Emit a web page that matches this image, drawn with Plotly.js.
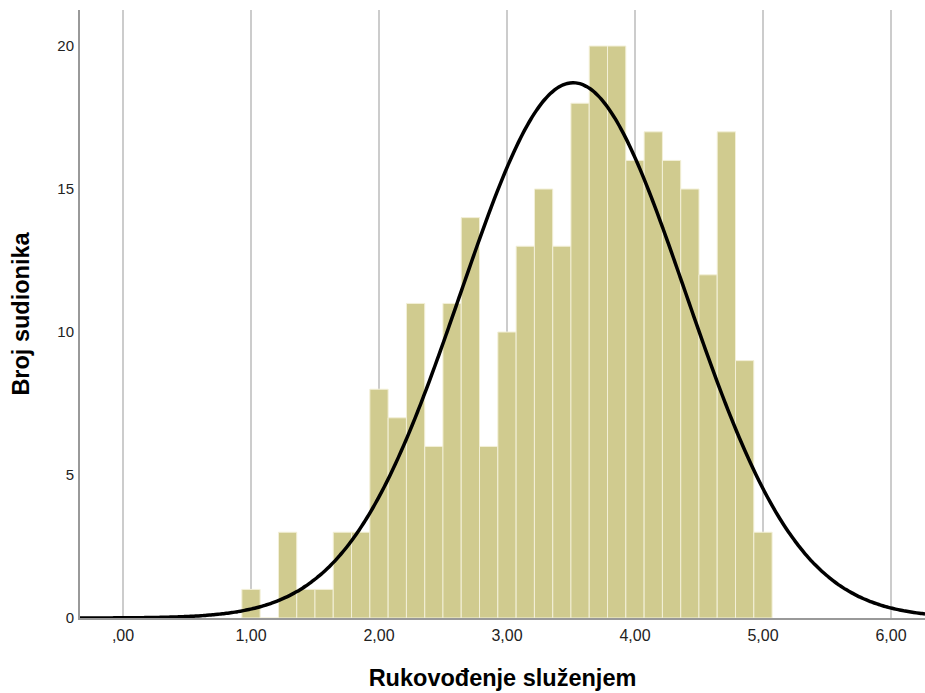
<!DOCTYPE html>
<html>
<head>
<meta charset="utf-8">
<script src="https://cdn.plot.ly/plotly-3.0.1.min.js"></script>
<style>html,body{margin:0;padding:0;background:#fff;}#chart{width:925px;height:693px;}</style>
</head>
<body>
<div id="chart"></div>
<script>
// Bin centres (1.00 to 5.00 in steps of 1/7)
const binCenters = [1.000, 1.143, 1.286, 1.429, 1.571, 1.714, 1.857, 2.000, 2.143, 2.286,
                    2.429, 2.571, 2.714, 2.857, 3.000, 3.143, 3.286, 3.429, 3.571, 3.714,
                    3.857, 4.000, 4.143, 4.286, 4.429, 4.571, 4.714, 4.857, 5.000];
const counts = [1, 0, 3, 1, 1, 3, 3, 8, 7, 11,
                6, 11, 14, 6, 10, 13, 15, 13, 18, 20,
                20, 16, 17, 16, 15, 12, 17, 9, 3];
const binWidth = 1 / 7;
// Fitted normal curve parameters
const fitMean = 3.517;
const fitSD = 0.88;
const fitN = 289;
const xTickVals = [0, 1, 2, 3, 4, 5, 6];
const xTickText = [",00", "1,00", "2,00", "3,00", "4,00", "5,00", "6,00"];
const yTickVals = [0, 5, 10, 15, 20];

const xMin = -0.336, xMax = 6.266;
const curveX = [], curveY = [];
const steps = 300;
for (let i = 0; i <= steps; i++) {
  const x = xMin + (xMax - xMin) * i / steps;
  const z = (x - fitMean) / fitSD;
  curveX.push(x);
  curveY.push(fitN * binWidth / (fitSD * Math.sqrt(2 * Math.PI)) * Math.exp(-0.5 * z * z));
}

const traces = [
  {
    type: 'bar', x: binCenters, y: counts, width: binWidth,
    marker: {color: '#d0cb8f', line: {color: '#f3f0d8', width: 1}},
    hoverinfo: 'x+y'
  },
  {
    type: 'scatter', mode: 'lines', x: curveX, y: curveY,
    line: {color: '#000', width: 3.5, shape: 'spline'},
    hoverinfo: 'skip'
  }
];

const layout = {
  width: 925, height: 693,
  margin: {l: 80, r: 0, t: 10, b: 75},
  paper_bgcolor: '#fff', plot_bgcolor: '#fff',
  showlegend: false,
  bargap: 0,
  font: {family: 'Liberation Sans, Arial, sans-serif', size: 14, color: '#222'},
  xaxis: {
    range: [xMin, xMax],
    tickvals: xTickVals, ticktext: xTickText,
    showgrid: true, gridcolor: '#cccccc', gridwidth: 1.5,
    zeroline: false,
    showline: true, linecolor: '#999', linewidth: 2,
    ticks: '', ticklen: 0,
    ticklabelstandoff: 2,
    tickfont: {size: 16, color: '#222'},
    title: {text: 'Rukovođenje služenjem', font: {size: 23.5, color: '#000', weight: 'bold'}, standoff: 26}
  },
  yaxis: {
    range: [0, 21.26],
    tickvals: yTickVals,
    showgrid: false, zeroline: false,
    showline: true, linecolor: '#999', linewidth: 2,
    ticks: '', ticklen: 0,
    ticklabelstandoff: 1,
    tickfont: {size: 15, color: '#222'},
    title: {text: 'Broj sudionika', font: {size: 23.5, color: '#000', weight: 'bold'}, standoff: 21}
  }
};

Plotly.newPlot('chart', traces, layout, {displayModeBar: false, staticPlot: true});
</script>
</body>
</html>
